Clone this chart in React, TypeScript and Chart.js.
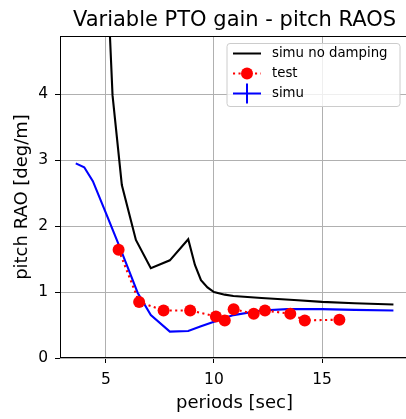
import React, { useEffect, useRef } from 'react';
import { Chart, registerables } from 'chart.js';

Chart.register(...registerables);

const titleText = 'Variable PTO gain - pitch RAOS';
const xLabel = 'periods [sec]';
const yLabel = 'pitch RAO [deg/m]';
const xTicks = [5, 10, 15];
const yTicks = [0, 1, 2, 3, 4];
const legendLabels = ['simu no damping', 'test', 'simu'];

const noDampPeriods = [5.0, 5.31, 5.74, 6.39, 7.08, 7.96, 8.81, 9.12, 9.4, 9.7, 10.0, 10.5, 10.9, 12.2, 13.7, 15.0, 16.5, 18.3];
const noDampRao = [6.3, 3.98, 2.62, 1.79, 1.36, 1.48, 1.8, 1.41, 1.18, 1.07, 1.0, 0.96, 0.94, 0.91, 0.88, 0.85, 0.83, 0.81];

const testPeriods = [5.59, 6.54, 7.67, 8.9, 10.09, 10.5, 10.91, 11.84, 12.36, 13.53, 14.2, 15.8];
const testRao = [1.64, 0.85, 0.72, 0.72, 0.63, 0.57, 0.74, 0.67, 0.72, 0.67, 0.57, 0.58];

const simuPeriods = [3.61, 4.0, 4.4, 5.0, 5.74, 6.47, 7.08, 7.96, 8.81, 9.4, 10.0, 10.9, 12.2, 13.4, 15.0, 16.5, 18.3];
const simuRao = [2.95, 2.89, 2.68, 2.2, 1.6, 0.99, 0.65, 0.4, 0.41, 0.48, 0.55, 0.65, 0.72, 0.74, 0.74, 0.73, 0.72];

const FONT = '"DejaVu Sans", sans-serif';

const decor = {
  id: 'decor',
  afterDraw(chart: any) {
    const { ctx, chartArea: a } = chart;
    ctx.save();
    // frame
    ctx.strokeStyle = '#000';
    ctx.lineWidth = 1;
    ctx.strokeRect(a.left + 0.5, a.top + 0.5, a.right - a.left - 1, a.bottom - a.top - 1);
    // title
    ctx.fillStyle = '#000';
    ctx.font = `21px ${FONT}`;
    ctx.textAlign = 'center';
    ctx.textBaseline = 'alphabetic';
    ctx.fillText(titleText, (a.left + a.right) / 2, 25.5);
    // legend
    const bx = 227, by = 43.5, bw = 173, bh = 63;
    ctx.beginPath();
    const r = 3;
    ctx.moveTo(bx + r, by);
    ctx.arcTo(bx + bw, by, bx + bw, by + bh, r);
    ctx.arcTo(bx + bw, by + bh, bx, by + bh, r);
    ctx.arcTo(bx, by + bh, bx, by, r);
    ctx.arcTo(bx, by, bx + bw, by, r);
    ctx.closePath();
    ctx.fillStyle = 'rgba(255,255,255,0.8)';
    ctx.fill();
    ctx.strokeStyle = '#cccccc';
    ctx.stroke();
    const x0 = 233, x1 = 261, xm = 247;
    const rows = [53.5, 73.5, 93.5];
    ctx.lineWidth = 2;
    ctx.strokeStyle = '#000';
    ctx.beginPath(); ctx.moveTo(x0, rows[0]); ctx.lineTo(x1, rows[0]); ctx.stroke();
    ctx.strokeStyle = '#ff0000';
    ctx.setLineDash([2.1, 3.4]);
    ctx.beginPath(); ctx.moveTo(x0, rows[1]); ctx.lineTo(x1, rows[1]); ctx.stroke();
    ctx.setLineDash([]);
    ctx.fillStyle = '#ff0000';
    ctx.beginPath(); ctx.arc(xm, rows[1], 6, 0, Math.PI * 2); ctx.fill();
    ctx.strokeStyle = '#0000ff';
    ctx.beginPath(); ctx.moveTo(x0, rows[2]); ctx.lineTo(x1, rows[2]); ctx.stroke();
    ctx.beginPath(); ctx.moveTo(xm, rows[2] - 10); ctx.lineTo(xm, rows[2] + 10); ctx.stroke();
    ctx.fillStyle = '#000';
    ctx.font = `13.3px ${FONT}`;
    ctx.textAlign = 'left';
    ctx.textBaseline = 'middle';
    legendLabels.forEach((t, i) => ctx.fillText(t, 272, rows[i]));
    ctx.restore();
  },
};

export default function App() {
  const ref = useRef<HTMLCanvasElement | null>(null);
  useEffect(() => {
    if (!ref.current) return;
    const toPts = (xs: number[], ys: number[]) => xs.map((x, i) => ({ x, y: ys[i] }));
    const tickFont = { family: FONT, size: 15.5 };
    const labelFont = { family: FONT, size: 18 };
    const chart = new Chart(ref.current, {
      type: 'line',
      data: {
        datasets: [
          {
            label: legendLabels[1],
            data: toPts(testPeriods, testRao),
            borderColor: '#ff0000',
            borderWidth: 2.1,
            borderDash: [2.1, 3.4],
            pointRadius: 6,
            pointBackgroundColor: '#ff0000',
            pointBorderWidth: 0,
            tension: 0,
            order: 0,
          },
          {
            label: legendLabels[2],
            data: toPts(simuPeriods, simuRao),
            borderColor: '#0000ff',
            borderWidth: 2.1,
            pointRadius: 0,
            tension: 0,
            order: 1,
          },
          {
            label: legendLabels[0],
            data: toPts(noDampPeriods, noDampRao),
            borderColor: '#000000',
            borderWidth: 2.1,
            pointRadius: 0,
            tension: 0,
            order: 2,
          },
        ],
      },
      options: {
        animation: false,
        responsive: false,
        events: [],
        layout: { padding: { top: 36, right: 4, left: 0, bottom: 0 } },
        plugins: { legend: { display: false }, title: { display: false }, tooltip: { enabled: false } },
        scales: {
          x: {
            type: 'linear',
            min: 2.88,
            max: 19.02,
            afterBuildTicks: (s: any) => { s.ticks = xTicks.map((v) => ({ value: v })); },
            afterFit: (s: any) => { s.height = 61; },
            grid: { color: '#b0b0b0', tickColor: '#000', tickLength: 5, lineWidth: 1 },
            border: { display: false },
            ticks: { font: tickFont, color: '#000', padding: 8, maxRotation: 0 },
            title: { display: true, text: xLabel, font: labelFont, color: '#000', padding: { top: 0, bottom: 5.2 } },
          },
          y: {
            type: 'linear',
            min: 0,
            max: 4.88,
            afterBuildTicks: (s: any) => { s.ticks = yTicks.map((v) => ({ value: v })); },
            afterFit: (s: any) => { s.width = 60; },
            grid: { color: '#b0b0b0', tickColor: '#000', tickLength: 5, lineWidth: 1 },
            border: { display: false },
            ticks: { font: tickFont, color: '#000', padding: 7 },
            title: { display: true, text: yLabel, font: labelFont, color: '#000', padding: { top: 11.2, bottom: 0 } },
          },
        },
      },
      plugins: [decor],
    });
    return () => chart.destroy();
  }, []);
  return (
    <div style={{ position: 'fixed', left: 0, top: 0, width: 415, height: 419, overflow: 'hidden', background: '#fff' }}>
      <canvas ref={ref} width={415} height={419} style={{ display: 'block' }} />
    </div>
  );
}
